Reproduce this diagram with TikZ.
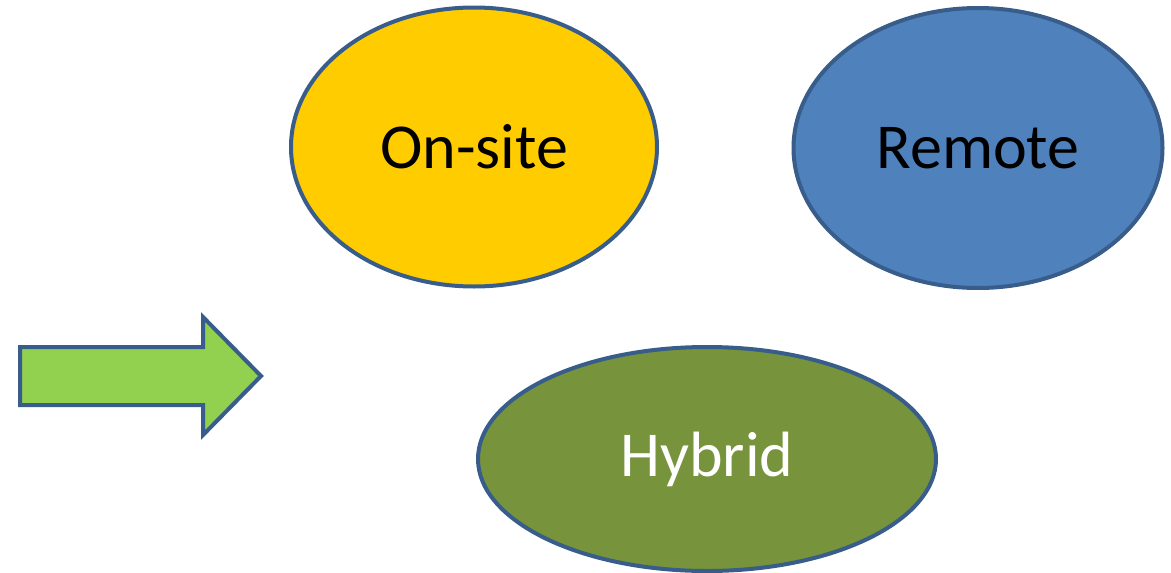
\documentclass[tikz,border=0pt]{standalone}
\usepackage{fontspec}
\setmainfont{Carlito}
\usetikzlibrary{shapes.geometric}
\definecolor{edgeblue}{HTML}{385D8A}
\definecolor{onsite}{HTML}{FFCC00}
\definecolor{remote}{HTML}{4F81BD}
\definecolor{hybrid}{HTML}{77933C}
\definecolor{arrowgreen}{HTML}{92D050}
\tikzset{
  blob/.style={ellipse, draw=edgeblue, line width=4pt, inner sep=0pt, font=\fontsize{64}{70}\selectfont},
}
\begin{document}
\begin{tikzpicture}[x=1pt,y=-1pt]
\useasboundingbox (0,0) rectangle (1171,573);
\node[blob, fill=onsite, minimum width=366pt, minimum height=279pt] (onsite) at (474,147) {On-site};
\node[blob, fill=remote, minimum width=369pt, minimum height=280pt] (remote) at (978,148) {Remote};
\node[blob, fill=hybrid, text=white, minimum width=458pt, minimum height=224pt] (hybrid) at (707,459) {Hybrid};
\draw[draw=edgeblue, fill=arrowgreen, line width=4pt, line join=miter]
  (20,347) -- (203,347) -- (203,317) -- (261,376) -- (203,435) -- (203,405) -- (20,405) -- cycle;
\end{tikzpicture}
\end{document}
